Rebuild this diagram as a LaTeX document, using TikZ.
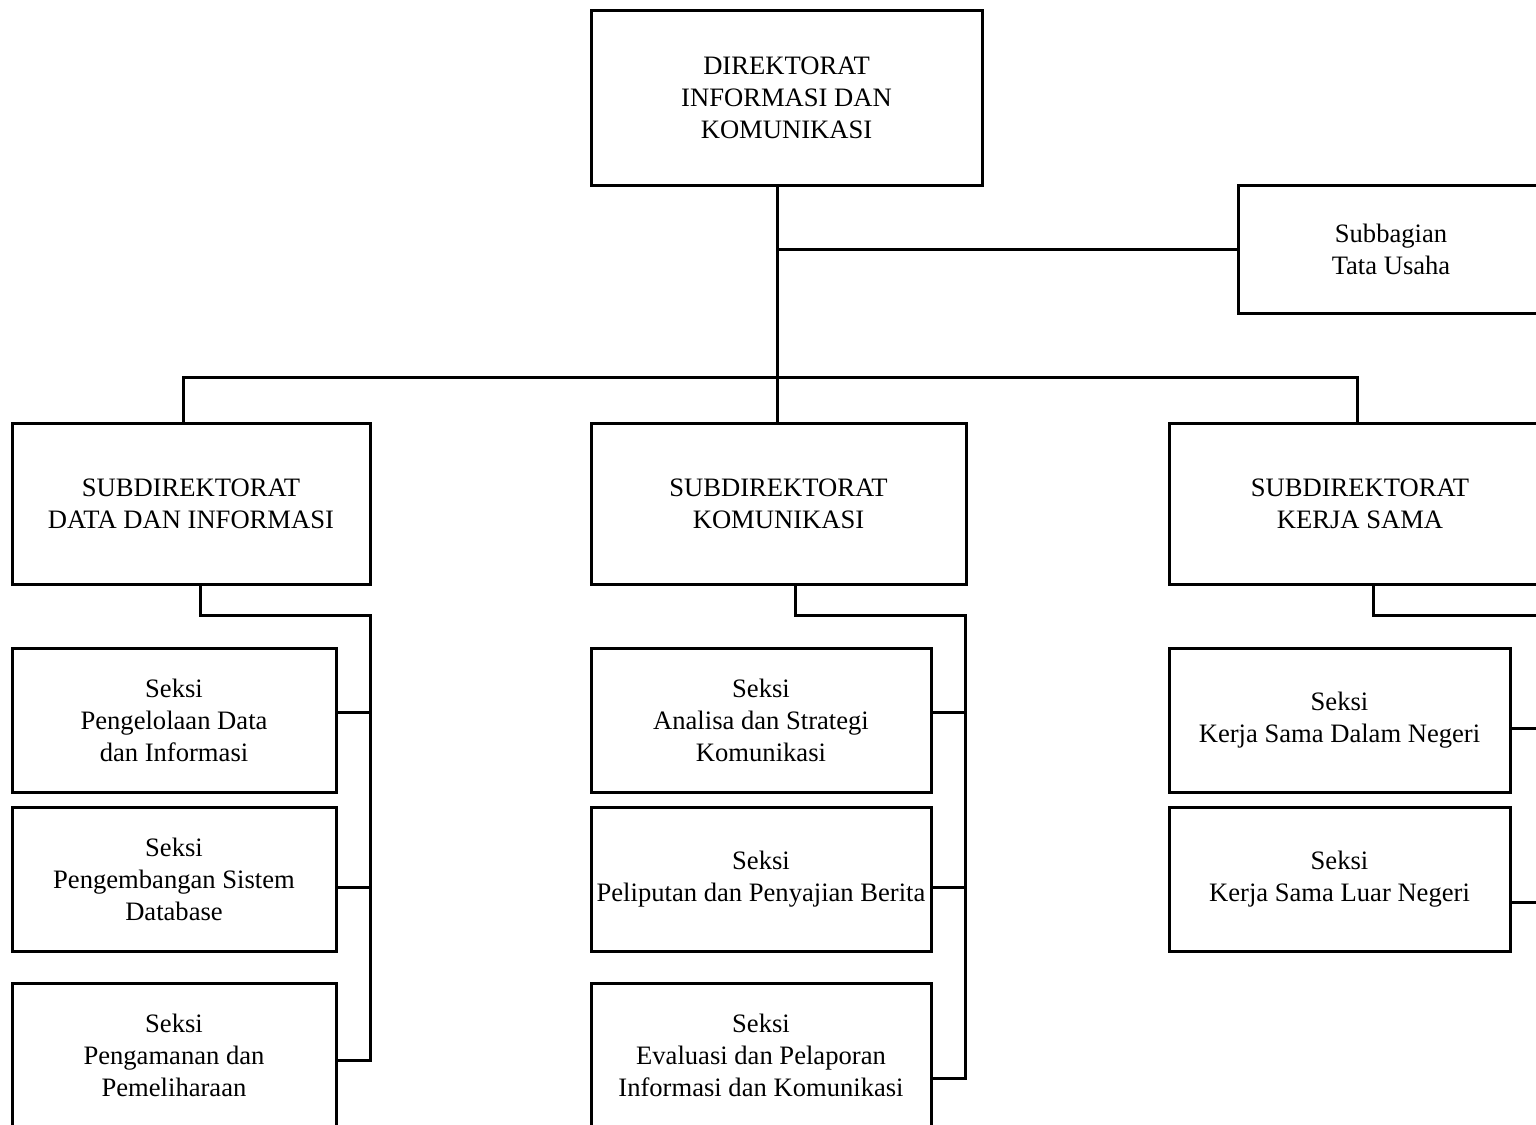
\documentclass[tikz,border=0pt]{standalone}
\usepackage{fontspec}
\setmainfont{Liberation Serif}
\begin{document}
\begin{tikzpicture}[x=0.5pt,y=-0.5pt,
  box/.style={draw,line width=1.5pt,inner sep=0pt,align=center,
    font=\fontsize{13.3pt}{16pt}\selectfont},
  link/.style={line width=1.5pt}]
\useasboundingbox (0,0) rectangle (1536,1124);
\begin{scope}
\clip (0,0) rectangle (1536,1124);

% top level
\node[box,minimum width=195.5pt,minimum height=87.5pt] (dir) at (786.5,97.5)
  {DIREKTORAT\\INFORMASI DAN\\KOMUNIKASI};
\node[box,minimum width=153pt,minimum height=64pt] (tu) at (1391,249)
  {Subbagian\\Tata Usaha};

% subdirectorates
\node[box,minimum width=179pt,minimum height=80.5pt] (subL) at (191,503.5)
  {SUBDIREKTORAT\\DATA DAN INFORMASI};
\node[box,minimum width=187.5pt,minimum height=80.5pt] (subM) at (778.5,503.5)
  {SUBDIREKTORAT\\KOMUNIKASI};
\node[box,minimum width=191pt,minimum height=80.5pt] (subR) at (1360,503.5)
  {SUBDIREKTORAT\\KERJA SAMA};

% sections, left
\node[box,minimum width=162pt,minimum height=72pt] (sL1) at (174,720)
  {Seksi\\Pengelolaan Data\\dan Informasi};
\node[box,minimum width=162pt,minimum height=72pt] (sL2) at (174,879)
  {Seksi\\Pengembangan Sistem\\Database};
\node[box,minimum width=162pt,minimum height=72pt] (sL3) at (174,1055)
  {Seksi\\Pengamanan dan\\Pemeliharaan};

% sections, middle
\node[box,minimum width=170pt,minimum height=72pt] (sM1) at (761,720)
  {Seksi\\Analisa dan Strategi\\Komunikasi};
\node[box,minimum width=170pt,minimum height=72pt] (sM2) at (761,879)
  {Seksi\\Peliputan dan Penyajian Berita};
\node[box,minimum width=170pt,minimum height=72pt] (sM3) at (761,1055)
  {Seksi\\Evaluasi dan Pelaporan\\Informasi dan Komunikasi};

% sections, right
\node[box,minimum width=170.5pt,minimum height=72pt] (sR1) at (1339.5,720)
  {Seksi\\Kerja Sama Dalam Negeri};
\node[box,minimum width=170.5pt,minimum height=72pt] (sR2) at (1339.5,879)
  {Seksi\\Kerja Sama Luar Negeri};

% junction points
\coordinate (trunk) at (777,377);
\coordinate (tuj) at (777,249);
\coordinate (busL) at (183,377);
\coordinate (busR) at (1357,377);
\coordinate (dL) at (200,615);
\coordinate (rL) at (370,615);
\coordinate (rLb) at (370,1060);
\coordinate (dM) at (795,615);
\coordinate (rM) at (965,615);
\coordinate (rMb) at (965,1078);
\coordinate (dR) at (1373,615);
\coordinate (rR) at (1545,615);
\coordinate (rRb) at (1545,902);

% upper connectors
\draw[link] (dir.south -| trunk) -- (trunk |- subM.north);
\draw[link] (tuj) -- (tu.west);
\draw[link] (subL.north -| busL) -- (busL) -- (busR) -- (subR.north -| busR);

% left branch
\draw[link] (subL.south -| dL) -- (dL) -- (rL) -- (rLb);
\draw[link] ([yshift=4pt]sL1.east) -- ++(34,0);
\draw[link] ([yshift=-4pt]sL2.east) -- ++(34,0);
\draw[link] ([yshift=-2.5pt]sL3.east) -- ++(34,0);

% middle branch
\draw[link] (subM.south -| dM) -- (dM) -- (rM) -- (rMb);
\draw[link] ([yshift=4pt]sM1.east) -- ++(34,0);
\draw[link] ([yshift=-4pt]sM2.east) -- ++(34,0);
\draw[link] ([yshift=-11.5pt]sM3.east) -- ++(34,0);

% right branch
\draw[link] (subR.south -| dR) -- (dR) -- (rR) -- (rRb);
\draw[link] ([yshift=-4pt]sR1.east) -- ++(35,0);
\draw[link] ([yshift=-11.5pt]sR2.east) -- ++(35,0);
\end{scope}
\end{tikzpicture}
\end{document}
